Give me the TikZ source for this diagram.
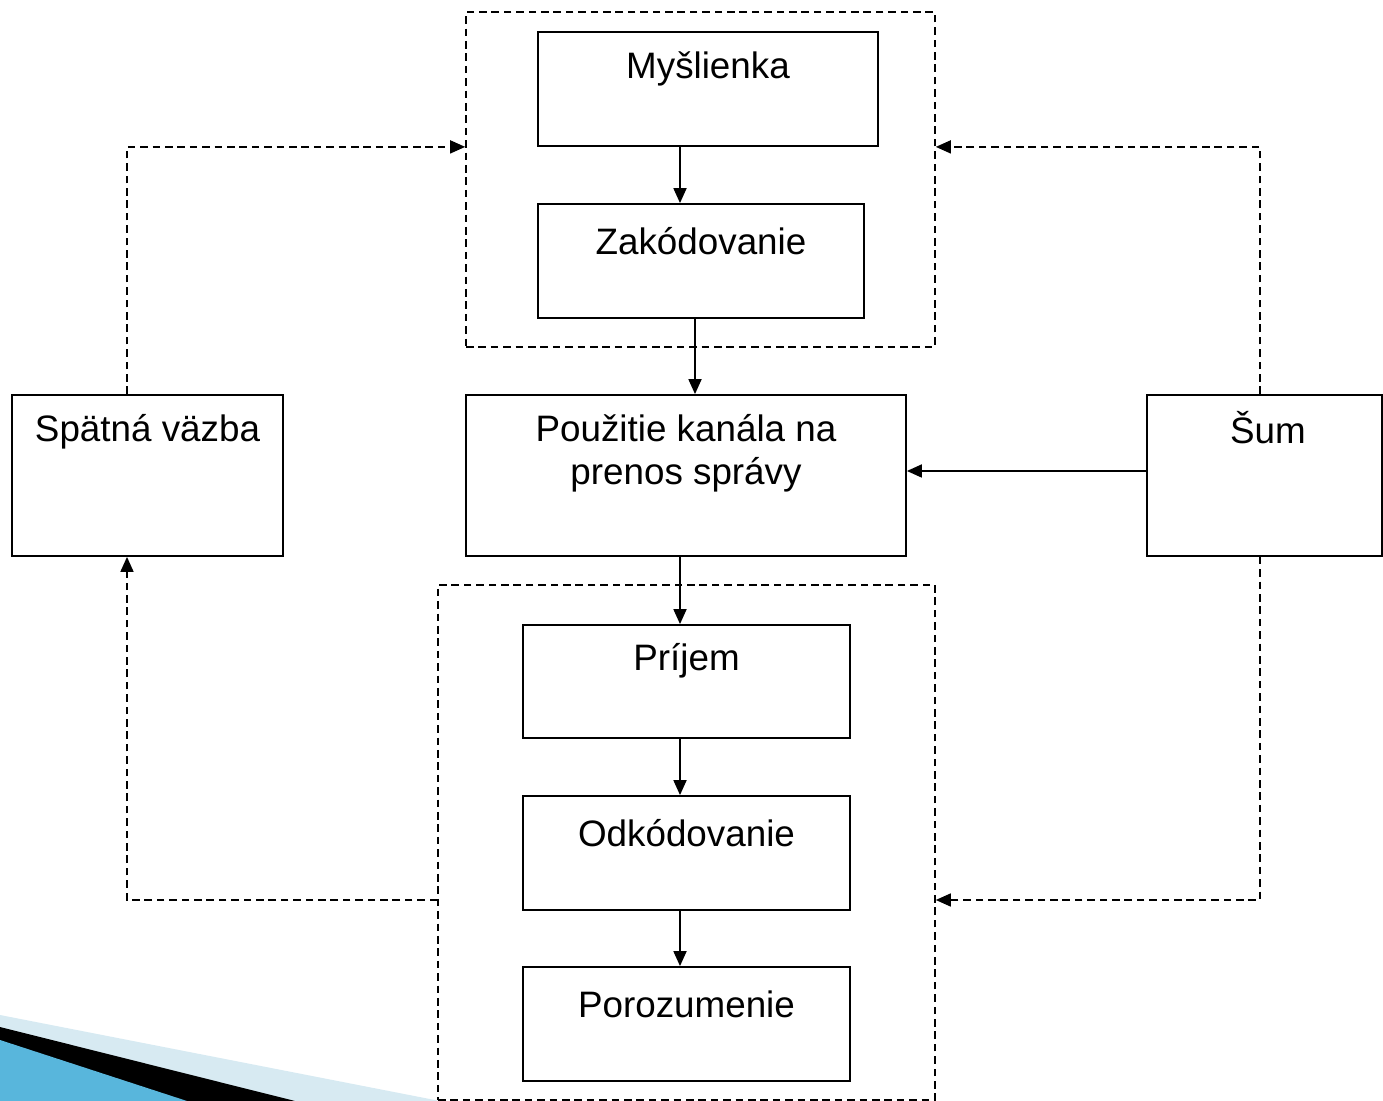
\documentclass[tikz,border=0pt]{standalone}
\usepackage{fontspec}
\setmainfont{Liberation Sans}
\usetikzlibrary{positioning,arrows.meta}

\definecolor{bandlight}{RGB}{215,234,242}
\definecolor{bandblue}{RGB}{88,182,220}

\begin{document}
\begin{tikzpicture}[
    x=0.5pt, y=-0.5pt,
    box/.style={rectangle, draw, line width=0.9pt, inner sep=0pt},
    group/.style={rectangle, draw, dash pattern=on 3.8pt off 2.4pt, line width=0.8pt, inner sep=0pt},
    lbl/.style={font=\fontsize{18.4}{21.5}\selectfont, align=center, inner sep=0pt},
    arrow/.style={-{Triangle[length=7.5pt,width=6.5pt]}, line width=0.9pt},
    darrow/.style={-{Triangle[length=7.5pt,width=6.5pt]}, line width=0.8pt, dash pattern=on 3.8pt off 2.4pt}
]
\useasboundingbox (0,0) rectangle (1383,1101);

% Decoration in the corner
\fill[bandlight] (0,1015) -- (440,1101) -- (0,1101) -- cycle;
\fill[black] (0,1027) -- (295,1101) -- (0,1101) -- cycle;
\fill[bandblue] (0,1040) -- (187,1101) -- (0,1101) -- cycle;

% Sender
\node[group, minimum width=234.5pt, minimum height=167.5pt] (coding) at (700.5,179.5) {};
\node[box, minimum width=170pt, minimum height=57pt] (thought) at (708,89) {};
\node[box, minimum width=163pt, minimum height=57pt] (encode) at (701,261) {};

% Middle row
\node[box, minimum width=220pt, minimum height=80.5pt] (channel) at (686,475.5) {};
\node[box, minimum width=135.5pt, minimum height=80.5pt] (feedback) at (147.5,475.5) {};
\node[box, minimum width=117.5pt, minimum height=80.5pt] (noise) at (1264.5,475.5) {};

% Receiver
\node[group, minimum width=248.5pt, minimum height=257.5pt] (decoding) at (686.5,842.5) {};
\node[box, minimum width=163.5pt, minimum height=56.5pt] (receive) at (686.5,681.5) {};
\node[box, minimum width=163.5pt, minimum height=57pt] (decode) at (686.5,853) {};
\node[box, minimum width=163.5pt, minimum height=57pt] (understand) at (686.5,1024) {};

% Labels
\node[lbl] (thoughttxt) at (708,69) {Myšlienka};
\node[lbl] (encodetxt) at (701,241) {Zakódovanie};
\node[lbl] (channeltxt) at (686,453.5) {Použitie kanála na\\prenos správy};
\node[lbl] (feedbacktxt) at (147.5,432) {Spätná väzba};
\node[lbl] (noisetxt) at (1268,428) {Šum};
\node[lbl] (receivetxt) at (686.5,661) {Príjem};
\node[lbl] (decodetxt) at (686.5,833) {Odkódovanie};
\node[lbl] (understandtxt) at (686.5,1004) {Porozumenie};

% Helper positions
\coordinate (axis) at (680,0);
\coordinate (axisb) at (695,0);
\coordinate (fbx) at (127,0);
\coordinate (nx) at (1260,0);
\coordinate (low) at (0,900);
\coordinate (mid) at (0,471);

% Solid arrows
\draw[arrow] (thought.south -| axis) -- (encode.north -| axis);
\draw[arrow] (encode.south -| axisb) -- (channel.north -| axisb);
\draw[arrow] (channel.south -| axis) -- (receive.north -| axis);
\draw[arrow] (receive.south -| axis) -- (decode.north -| axis);
\draw[arrow] (decode.south -| axis) -- (understand.north -| axis);
\draw[arrow] (noise.west |- mid) -- (channel.east |- mid);

% Dashed loops
\draw[darrow] (feedback.north -| fbx) |- (coding.west |- thought.south);
\draw[darrow] (noise.north -| nx) |- (coding.east |- thought.south);
\draw[darrow] (noise.south -| nx) |- (decoding.east |- low);
\draw[darrow] (decoding.west |- low) -| (feedback.south -| fbx);

\end{tikzpicture}
\end{document}
